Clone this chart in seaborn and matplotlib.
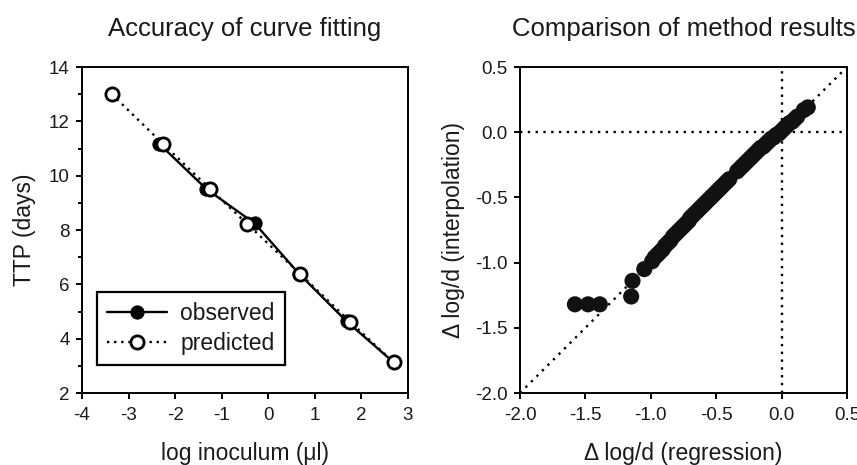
import numpy as np
import pandas as pd
import matplotlib
matplotlib.use("Agg")
import matplotlib.pyplot as plt
from matplotlib.ticker import MultipleLocator
import seaborn as sns

# ---------------- data ----------------
obs_x = [-2.34, -1.33, -0.29, 0.66, 1.68, 2.69]
obs_y = [11.17, 9.51, 8.24, 6.39, 4.64, 3.13]
pred_x = [-3.36, -2.26, -1.25, -0.45, 0.68, 1.76, 2.69]
pred_y = [13.00, 11.17, 9.51, 8.22, 6.39, 4.62, 3.13]

reg_x = [-1.58, -1.48, -1.39, -1.14, -1.15, -1.05,
         -0.99, -0.97, -0.95, -0.93, -0.91, -0.89, -0.87, -0.85, -0.83, -0.81,
         -0.79, -0.77, -0.75, -0.73, -0.71, -0.70, -0.68, -0.66, -0.64, -0.62,
         -0.60, -0.58, -0.56, -0.54, -0.52, -0.50, -0.48, -0.46, -0.44, -0.42,
         -0.40, -0.34, -0.32, -0.30, -0.28, -0.26, -0.24, -0.22, -0.20, -0.18,
         -0.16, -0.14, -0.12, -0.10, -0.08, -0.06, -0.04, -0.02, 0.00, 0.02,
         0.04, 0.06, 0.08, 0.10, 0.12, 0.17, 0.20]
int_y = [-1.32, -1.32, -1.32, -1.14, -1.26, -1.05,
         -0.99, -0.96, -0.94, -0.92, -0.90, -0.87, -0.85, -0.83, -0.80, -0.78,
         -0.76, -0.74, -0.72, -0.70, -0.68, -0.66, -0.64, -0.62, -0.60, -0.58,
         -0.56, -0.54, -0.52, -0.50, -0.48, -0.46, -0.44, -0.42, -0.40, -0.38,
         -0.36, -0.30, -0.28, -0.26, -0.24, -0.22, -0.20, -0.18, -0.16, -0.14,
         -0.12, -0.11, -0.09, -0.07, -0.05, -0.04, -0.02, -0.01, 0.01, 0.03,
         0.05, 0.07, 0.08, 0.10, 0.12, 0.17, 0.19]

left_xticks = [-4, -3, -2, -1, 0, 1, 2, 3]
left_yticks = [2, 4, 6, 8, 10, 12, 14]
right_ticks = [-2.0, -1.5, -1.0, -0.5, 0.0, 0.5]

# ---------------- style ----------------
sns.set_style("ticks")
plt.rcParams['font.family'] = ['Liberation Sans', 'DejaVu Sans']
plt.rcParams['axes.linewidth'] = 1.4
plt.rcParams['xtick.major.width'] = 1.4
plt.rcParams['ytick.major.width'] = 1.4
plt.rcParams['ytick.minor.width'] = 1.4
plt.rcParams['xtick.major.size'] = 4
plt.rcParams['ytick.major.size'] = 4
plt.rcParams['ytick.minor.size'] = 3
plt.rcParams['xtick.major.pad'] = 6
plt.rcParams['ytick.major.pad'] = 5
plt.rcParams['xtick.color'] = 'black'
plt.rcParams['ytick.color'] = 'black'
plt.rcParams['axes.edgecolor'] = 'black'

fig = plt.figure(figsize=(8.57, 4.65), dpi=100)
ax1 = fig.add_axes([82/857, 1-393/465, 326/857, 326/465])
ax2 = fig.add_axes([520/857, 1-393/465, 327/857, 326/465])

TITLE = 18.5
LABEL = 16.5
TICK = 13.5
TXT = "#1a1a1a"

# ---------------- left plot ----------------
df_obs = pd.DataFrame({"x": obs_x, "y": obs_y})
df_pred = pd.DataFrame({"x": pred_x, "y": pred_y})
sns.lineplot(data=df_obs, x="x", y="y", ax=ax1, color="black", lw=1.7,
             marker="o", markersize=9.5, markerfacecolor="black",
             markeredgecolor="black", label="observed", sort=False)
sns.lineplot(data=df_pred, x="x", y="y", ax=ax1, color="black", lw=1.7,
             linestyle=(0, (1, 2.0)), marker="o", markersize=9.5,
             markerfacecolor="white", markeredgecolor="black",
             markeredgewidth=2, label="predicted", sort=False)
ax1.set_xlim(-4, 3)
ax1.set_ylim(2, 14)
ax1.set_xticks(left_xticks)
ax1.set_yticks(left_yticks)
ax1.yaxis.set_minor_locator(MultipleLocator(1))
ax1.set_xticklabels([str(v) for v in left_xticks], fontsize=TICK, color=TXT)
ax1.set_yticklabels([str(v) for v in left_yticks], fontsize=TICK, color=TXT)
ax1.set_xlabel("log inoculum (μl)", fontsize=LABEL, labelpad=13, color=TXT)
ax1.set_ylabel("TTP (days)", fontsize=LABEL, labelpad=9, color=TXT)
ax1.set_title("Accuracy of curve fitting", fontsize=TITLE, pad=22, color=TXT)
leg = ax1.legend(loc="lower left", bbox_to_anchor=(0.045, 0.085),
                 fontsize=LABEL, frameon=True, fancybox=False,
                 edgecolor="black", handlelength=2.6, borderpad=0.45,
                 labelspacing=0.3, handletextpad=0.6, borderaxespad=0)
leg.get_frame().set_linewidth(1.6)
leg.get_frame().set_alpha(1)
for t in leg.get_texts():
    t.set_color(TXT)

# ---------------- right plot ----------------
dot = (0, (1, 2.3))
ax2.plot([-2, 0.5], [-2, 0.5], color="black", lw=1.7, linestyle=dot, zorder=1)
ax2.axhline(0, color="black", lw=1.7, linestyle=dot, zorder=1)
ax2.axvline(0, color="black", lw=1.7, linestyle=dot, zorder=1)
df_cmp = pd.DataFrame({"reg": reg_x, "int": int_y})
sns.scatterplot(data=df_cmp, x="reg", y="int", ax=ax2, s=135, color="#111111",
                edgecolor="none", zorder=3)
ax2.set_xlim(-2, 0.5)
ax2.set_ylim(-2, 0.5)
ax2.set_xticks(right_ticks)
ax2.set_yticks(right_ticks)
ax2.set_xticklabels([f"{v:.1f}" for v in right_ticks], fontsize=TICK, color=TXT)
ax2.set_yticklabels([f"{v:.1f}" for v in right_ticks], fontsize=TICK, color=TXT)
ax2.set_xlabel("Δ log/d (regression)", fontsize=LABEL, labelpad=13, color=TXT)
ax2.set_ylabel("Δ log/d (interpolation)", fontsize=LABEL, labelpad=7, color=TXT)
ax2.set_title("Comparison of method results", fontsize=TITLE, pad=22, color=TXT)

for ax in (ax1, ax2):
    for s in ax.spines.values():
        s.set_visible(True)
        s.set_color("black")

fig.savefig("out.png", dpi=100)
